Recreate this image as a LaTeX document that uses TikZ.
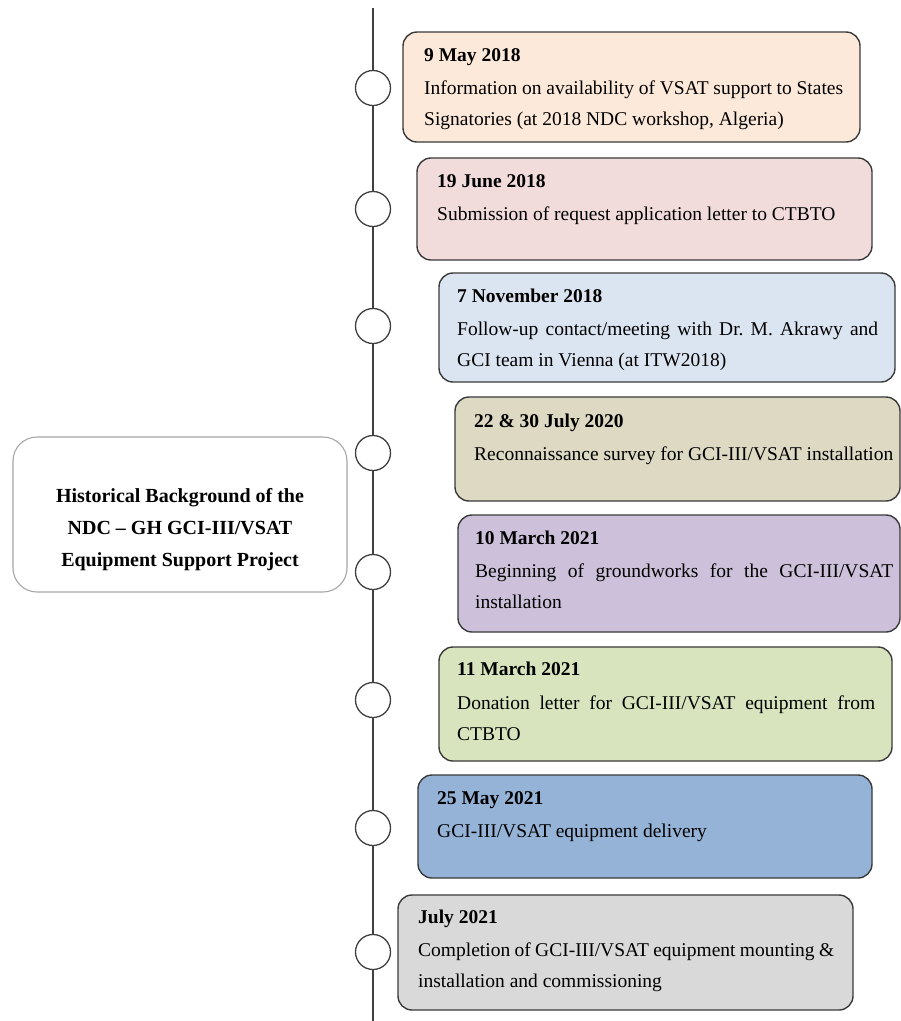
\documentclass[tikz,border=0pt]{standalone}
\usepackage{fontspec}
\setmainfont{Liberation Serif}
\usetikzlibrary{fit}
\definecolor{fA}{HTML}{FDE9D9}
\definecolor{fB}{HTML}{F2DCDB}
\definecolor{fC}{HTML}{DBE5F1}
\definecolor{fD}{HTML}{DDD9C3}
\definecolor{fE}{HTML}{CCC0DA}
\definecolor{fF}{HTML}{D7E4BD}
\definecolor{fG}{HTML}{95B3D7}
\definecolor{fH}{HTML}{D9D9D9}
\definecolor{edge}{HTML}{3A3A3A}
\definecolor{lineC}{HTML}{404040}
\definecolor{softedge}{HTML}{A6A6A6}
\tikzset{
  eventbox/.style={draw=edge, line width=1.4pt, rounded corners=14pt, inner sep=0pt},
  mainbox/.style={draw=softedge, line width=1.1pt, fill=white, rounded corners=24pt, inner sep=0pt},
  knot/.style={circle, draw=lineC, line width=1.3pt, fill=white, minimum size=35pt, inner sep=0pt},
  spine/.style={draw=lineC, line width=1.4pt},
  tx/.style={inner sep=0pt, anchor=base west, font=\fontsize{19.5}{23}\selectfont},
  ttl/.style={inner sep=0pt, anchor=base, font=\fontsize{20}{24}\selectfont\bfseries},
}
\begin{document}
\frenchspacing
\begin{tikzpicture}[x=1pt,y=-1pt]
\useasboundingbox (0,0) rectangle (901,1021);
\fill[white] (0,0) rectangle (901,1021);

% left title box
\node[mainbox, fit={(13,437) (347,592)}] (main) {};
\node[ttl] (m1) at (180,502) {Historical Background of the};
\node[ttl] (m2) at (180,534) {NDC -- GH GCI-III/VSAT};
\node[ttl] (m3) at (180,566) {Equipment Support Project};

% event boxes
\node[eventbox, fill=fA, fit={(403,32) (860,142)}] (b1) {};
\node[eventbox, fill=fB, fit={(417,158) (872,260)}] (b2) {};
\node[eventbox, fill=fC, fit={(439,273) (895,382)}] (b3) {};
\node[eventbox, fill=fD, fit={(455,397) (900,501)}] (b4) {};
\node[eventbox, fill=fE, fit={(458,515) (900,632)}] (b5) {};
\node[eventbox, fill=fF, fit={(439,647) (892,761)}] (b6) {};
\node[eventbox, fill=fG, fit={(418,775) (872,878)}] (b7) {};
\node[eventbox, fill=fH, fit={(398,895) (853,1010)}] (b8) {};

% texts
\node[tx] (t1a) at (424,61.5) {\textbf{9 May 2018}};
\node[tx] (t1b) at (424,94) {\makebox[419pt][s]{Information on availability of VSAT support to States}};
\node[tx] (t1c) at (424,125.5) {Signatories (at 2018 NDC workshop, Algeria)};

\node[tx] (t2a) at (437,187.5) {\textbf{19 June 2018}};
\node[tx] (t2b) at (437,220.5) {Submission of request application letter to CTBTO};

\node[tx] (t3a) at (457,302.5) {\textbf{7 November 2018}};
\node[tx] (t3b) at (457,335) {\makebox[421pt][s]{Follow-up contact/meeting with Dr. M. Akrawy and}};
\node[tx] (t3c) at (457,366.5) {GCI team in Vienna (at ITW2018)};

\node[tx] (t4a) at (474,427.5) {\textbf{22 \& 30 July 2020}};
\node[tx] (t4b) at (474,460.5) {Reconnaissance survey for GCI-III/VSAT installation};

\node[tx] (t5a) at (475,544.5) {\textbf{10 March 2021}};
\node[tx] (t5b) at (475,577) {\makebox[418pt][s]{Beginning of groundworks for the GCI-III/VSAT}};
\node[tx] (t5c) at (475,608.5) {installation};

\node[tx] (t6a) at (457,675.5) {\textbf{11 March 2021}};
\node[tx] (t6b) at (457,709) {\makebox[418pt][s]{Donation letter for GCI-III/VSAT equipment from}};
\node[tx] (t6c) at (457,740.5) {CTBTO};

\node[tx] (t7a) at (437,804) {\textbf{25 May 2021}};
\node[tx] (t7b) at (437,837.5) {GCI-III/VSAT equipment delivery};

\node[tx] (t8a) at (418,923.5) {\textbf{July 2021}};
\node[tx] (t8b) at (418,956) {\makebox[416pt][s]{Completion of GCI-III/VSAT equipment mounting \&}};
\node[tx] (t8c) at (418,987.5) {installation and commissioning};

% timeline
\coordinate (top) at (373,8);
\coordinate (bot) at (373,1021);
\node[knot] (k1) at (373,88) {};
\node[knot] (k2) at (373,209) {};
\node[knot] (k3) at (373,326) {};
\node[knot] (k4) at (373,453) {};
\node[knot] (k5) at (373,572) {};
\node[knot] (k6) at (373,700) {};
\node[knot] (k7) at (373,828) {};
\node[knot] (k8) at (373,952) {};
\draw[spine] (top) -- (k1);
\draw[spine] (k1) -- (k2);
\draw[spine] (k2) -- (k3);
\draw[spine] (k3) -- (k4);
\draw[spine] (k4) -- (k5);
\draw[spine] (k5) -- (k6);
\draw[spine] (k6) -- (k7);
\draw[spine] (k7) -- (k8);
\draw[spine] (k8) -- (bot);
\end{tikzpicture}
\end{document}
